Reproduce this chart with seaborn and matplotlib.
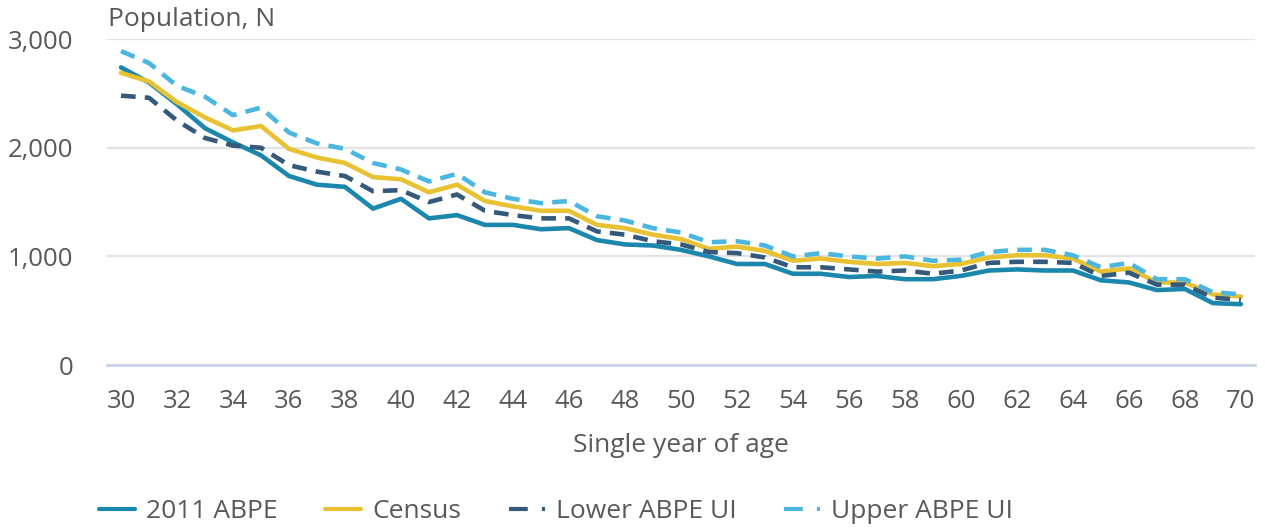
import matplotlib
matplotlib.use("Agg")
import matplotlib.pyplot as plt
import seaborn as sns
import pandas as pd

# values
ages = list(range(30, 71))
abpe_2011 = [2740, 2600, 2400, 2180, 2050, 1930, 1740, 1660, 1640, 1440,
             1530, 1350, 1380, 1290, 1290, 1250, 1260, 1150, 1110, 1100,
             1060, 1000, 930, 930, 840, 840, 810, 820, 790, 790,
             820, 870, 880, 870, 870, 780, 760, 690, 700, 570, 560]
census = [2690, 2610, 2420, 2280, 2160, 2200, 1990, 1910, 1860, 1730,
          1710, 1590, 1660, 1510, 1460, 1420, 1420, 1290, 1260, 1200,
          1160, 1070, 1090, 1050, 960, 980, 950, 930, 940, 910,
          930, 990, 1010, 1010, 980, 860, 890, 760, 760, 650, 630]
lower_ui = [2480, 2460, 2250, 2090, 2020, 2000, 1840, 1780, 1740, 1600,
            1610, 1500, 1570, 1420, 1380, 1350, 1350, 1230, 1200, 1140,
            1110, 1040, 1030, 990, 900, 900, 880, 860, 870, 840,
            870, 940, 950, 950, 940, 820, 850, 740, 740, 620, 600]
upper_ui = [2890, 2780, 2570, 2470, 2300, 2370, 2140, 2040, 1990, 1860,
            1800, 1690, 1760, 1590, 1530, 1490, 1510, 1370, 1330, 1260,
            1220, 1130, 1140, 1100, 1000, 1030, 1000, 980, 1000, 960,
            970, 1040, 1060, 1060, 1010, 900, 940, 790, 790, 670, 650]

series = ["2011 ABPE", "Census", "Lower ABPE UI", "Upper ABPE UI"]
colors = ["#1c87ad", "#e8c232", "#34597b", "#4bb6df"]
dashes = [None, None, (3.2, 2.0), (3.2, 2.0)]

df = pd.DataFrame({"age": ages, "2011 ABPE": abpe_2011, "Census": census,
                   "Lower ABPE UI": lower_ui, "Upper ABPE UI": upper_ui})

sns.set_style("white")
plt.rcParams["font.family"] = ["Open Sans", "DejaVu Sans"]
text_col = "#595959"
fs = 19

fig = plt.figure(figsize=(12.65, 5.29), dpi=100)
ax = fig.add_axes([0.0846, 0.31, 0.9074, 0.616])

for name, col, d in zip(series, colors, dashes):
    sns.lineplot(data=df, x="age", y=name, ax=ax, color=col,
                 linewidth=3.3, label=name)
    if d is not None:
        ax.lines[-1].set_dashes(d)

ax.set_xlim(29.5, 70.5)
ax.set_ylim(0, 3000)
ax.set_yticks([0, 1000, 2000, 3000])
ax.set_yticklabels(["0", "1,000", "2,000", "3,000"])
ax.set_xticks(range(30, 71, 2))
ax.grid(axis="y", color="#e3e3e3", linewidth=1.6)
ax.set_axisbelow(True)
for s in ["top", "right", "left"]:
    ax.spines[s].set_visible(False)
ax.spines["bottom"].set_color("#c9d5ea")
ax.spines["bottom"].set_linewidth(2)
ax.tick_params(axis="y", length=0, pad=24, labelsize=fs - 0.5,
               labelcolor=text_col)
ax.tick_params(axis="x", length=9, width=1.2, color="#c9d5ea", pad=8,
               labelsize=fs - 0.5, labelcolor=text_col)
ax.set_xlabel("Single year of age", fontsize=fs, color=text_col, labelpad=14)
ax.set_ylabel("")
fig.text(108 / 1265, 1 - 7 / 529, "Population, N", fontsize=fs,
         color=text_col, ha="left", va="top")

handles, labels = ax.get_legend_handles_labels()
ax.get_legend().remove()
leg = fig.legend(handles, labels, loc="center left",
                 bbox_to_anchor=(86 / 1265, 1 - 512 / 529), ncol=4,
                 frameon=False, borderpad=0, fontsize=fs,
                 labelcolor=text_col, handlelength=1.36,
                 columnspacing=1.8, handletextpad=0.42)
for h, d in zip(leg.legend_handles, dashes):
    h.set_linewidth(3)
    if d is not None:
        h.set_dashes((4.5, 3.4))

fig.savefig("out.png", dpi=100)
